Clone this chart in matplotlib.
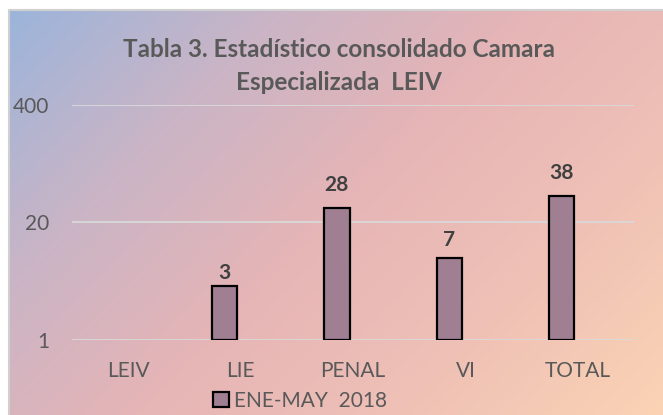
import numpy as np
import matplotlib.pyplot as plt
from matplotlib.colors import LinearSegmentedColormap

# data
categories = ['LEIV', 'LIE', 'PENAL', 'VI', 'TOTAL']
values = [0, 3, 28, 7, 38]
series_name = 'ENE-MAY  2018'
yticks = [1, 20, 400]
title_lines = ['Tabla 3. Estadístico consolidado Camara', 'Especializada  LEIV']

fig = plt.figure(figsize=(6.63, 4.15), dpi=100)

# background: white margin, thin grey frame, diagonal gradient
W, H = 663, 415
bg = fig.add_axes([0, 0, 1, 1], zorder=0)
bg.set_xlim(0, W)
bg.set_ylim(H, 0)
bg.axis('off')
cmap = LinearSegmentedColormap.from_list(
    'bg', ['#9cb5db', '#c9b4c6', '#e6b5b6', '#efc1b6', '#fbd3b4'])
xx, yy = np.meshgrid(np.linspace(0, 1, 300), np.linspace(0, 1, 200))
grad = (xx * 0.62 + yy * 0.38)
bg.imshow(grad, cmap=cmap, extent=[9, W, H, 10], aspect='auto', vmin=0, vmax=1)
bg.plot([8.5, 8.5, W], [H, 10, 10], color='#d0d0d0', lw=1.5)

ax = fig.add_axes([72 / W, 75 / H, 562 / W, 235 / H], zorder=1)
ax.patch.set_alpha(0)
ax.set_yscale('log', base=20)
ax.set_ylim(1, 400)
ax.set_xlim(-0.5, len(categories) - 0.5)

x = np.arange(len(categories))
vals = np.array(values, dtype=float)
plot_vals = np.where(vals > 0, vals, np.nan)
# bars sit left of the category centre (empty second series slot in the cluster)
bx = x - 0.143
bars = ax.bar(bx, plot_vals, width=0.227, bottom=1, color='#a07f93',
              edgecolor='black', linewidth=1.6, label=series_name, zorder=3)
for xi, v in zip(bx, values):
    if v > 0:
        ax.annotate(str(v), (xi, v), xytext=(0, 10), textcoords='offset points',
                    ha='center', va='bottom', fontsize=15, fontweight='bold',
                    color='#404040', family='Lato')

ax.set_yticks(yticks)
ax.set_yticklabels([str(t) for t in yticks])
ax.yaxis.set_minor_locator(plt.NullLocator())
ax.grid(axis='y', color='#d9d9d9', linewidth=1.3, zorder=0)
ax.tick_params(axis='both', length=0, labelsize=15, labelcolor='#595959')
ax.tick_params(axis='y', pad=16.5)
ax.tick_params(axis='x', pad=15)
ax.set_xticks(x)
ax.set_xticklabels(categories, family='Lato')
for lbl in ax.get_yticklabels():
    lbl.set_family('Lato')
for s in ax.spines.values():
    s.set_visible(False)

for yb, line in zip([57, 90], title_lines):
    fig.text(339 / W, 1 - yb / H, line, ha='center', va='baseline',
             fontsize=17.5, fontweight='bold', color='#595959', family='Lato')

leg = fig.legend(handles=[bars], labels=[series_name], loc='center',
                 bbox_to_anchor=(300 / W, 1 - 401 / H), frameon=False,
                 prop={'family': 'Lato', 'size': 15}, handlelength=0.75,
                 handleheight=0.7, handletextpad=0.25, borderpad=0,
                 labelcolor='#595959')

fig.savefig('out.png', dpi=100)
